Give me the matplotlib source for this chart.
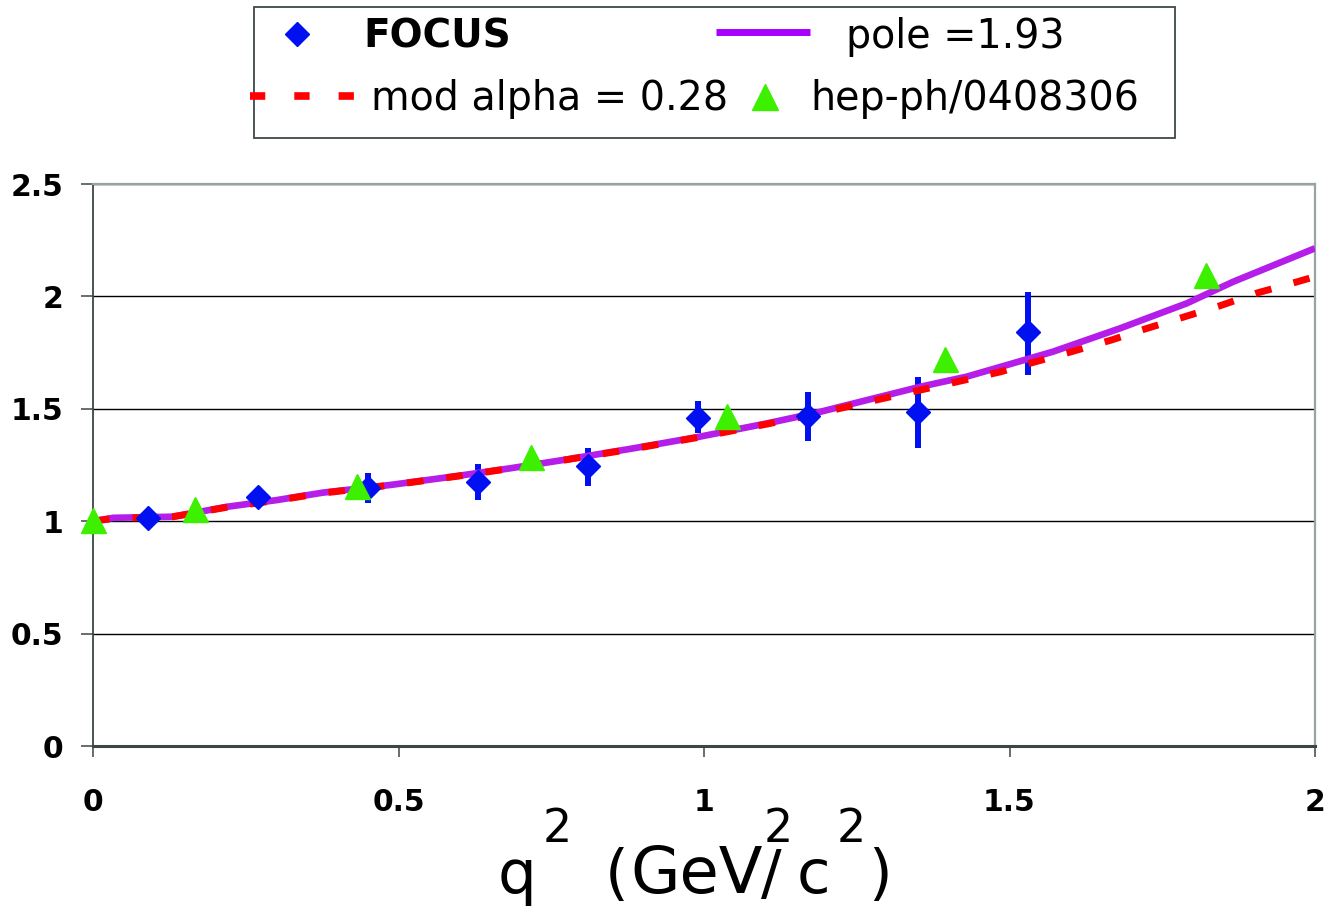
#!/usr/bin/env python

import matplotlib
matplotlib.use('Agg')
from matplotlib import pyplot as plt
from matplotlib.patches import Rectangle

W_PX, H_PX = 1331, 915

BLUE = '#0010f0'
GREEN = '#3cf000'
RED = '#ff0000'
PURPLE = '#b41ee8'

# FOCUS data (diamonds + vertical error bars)
focus_q2 = [0.09, 0.27, 0.45, 0.63, 0.81, 0.99, 1.17, 1.35, 1.53]
focus_f = [1.013, 1.106, 1.146, 1.176, 1.246, 1.458, 1.468, 1.487, 1.843]
focus_lo = [0.010, 0.020, 0.064, 0.082, 0.089, 0.067, 0.110, 0.160, 0.193]
focus_hi = [0.010, 0.020, 0.067, 0.078, 0.078, 0.078, 0.108, 0.156, 0.178]

# hep-ph/0408306 (triangles)
hep_q2 = [0.0, 0.167, 0.432, 0.717, 1.037, 1.394, 1.822]
hep_f = [1.005, 1.054, 1.155, 1.287, 1.469, 1.722, 2.097]

# pole = 1.93 curve
pole_q2 = [0.0, 0.033, 0.131, 0.219, 0.301, 0.376, 0.486, 0.596, 0.682, 0.776,
           0.884, 0.993, 1.103, 1.185, 1.267, 1.354, 1.430, 1.571, 1.681, 1.790,
           1.866, 2.0]
pole_f = [1.0, 1.015, 1.020, 1.064, 1.094, 1.127, 1.161, 1.201, 1.235, 1.275,
          1.324, 1.376, 1.435, 1.483, 1.539, 1.598, 1.643, 1.754, 1.858, 1.969,
          2.065, 2.214]

# mod alpha = 0.28 curve
mod_q2 = [0.0, 0.033, 0.131, 0.219, 0.301, 0.376, 0.486, 0.596, 0.682, 0.776,
          0.884, 0.993, 1.103, 1.185, 1.267, 1.355, 1.422, 1.486, 1.537, 1.604,
          1.668, 1.717, 1.779, 1.843, 1.905, 1.971, 2.0]
mod_f = [1.0, 1.012, 1.020, 1.062, 1.093, 1.125, 1.160, 1.200, 1.234, 1.274,
         1.322, 1.374, 1.432, 1.478, 1.530, 1.584, 1.625, 1.665, 1.705, 1.756,
         1.807, 1.851, 1.903, 1.957, 2.015, 2.065, 2.088]

xticks = [0, 0.5, 1, 1.5, 2]
xtick_labels = ['0', '0.5', '1', '1.5', '2']
yticks = [0, 0.5, 1, 1.5, 2, 2.5]
ytick_labels = ['0', '0.5', '1', '1.5', '2', '2.5']

legend_labels = ['FOCUS', 'pole =1.93', 'mod alpha = 0.28', 'hep-ph/0408306']

fig = plt.figure(figsize=(W_PX / 100, H_PX / 100), dpi=100)
ax = fig.add_axes([93 / W_PX, 169 / H_PX, 1222 / W_PX, 562 / H_PX])

ax.errorbar(focus_q2, focus_f, yerr=[focus_lo, focus_hi], fmt='none',
            ecolor=BLUE, elinewidth=4.3, capsize=0, zorder=2)
ax.plot(pole_q2, pole_f, color=PURPLE, lw=4.8, solid_capstyle='butt',
        solid_joinstyle='round', zorder=3)
ax.plot(mod_q2, mod_f, color=RED, lw=5.0, dashes=(2.4, 3.3),
        dash_capstyle='butt', zorder=3.5)
ax.plot(focus_q2, focus_f, 'D', ms=12.5, color=BLUE, mec=BLUE, zorder=4,
        clip_on=False)
ax.plot(hep_q2, hep_f, '^', ms=18, color=GREEN, mec=GREEN, zorder=5,
        clip_on=False)

ax.set_xlim(0, 2)
ax.set_ylim(0, 2.5)
ax.set_xticks(xticks)
ax.set_xticklabels(xtick_labels, fontsize=21.5, fontweight='bold')
ax.set_yticks(yticks)
ax.set_yticklabels(ytick_labels, fontsize=21.5, fontweight='bold')
ax.tick_params(axis='y', direction='out', length=8.6, width=1.1, pad=13,
               color='#3c4646', labelcolor='black')
ax.tick_params(axis='x', direction='out', length=8.0, width=1.1, pad=22,
               color='#3c4646', labelcolor='black')

ax.yaxis.grid(True, color='black', lw=1.0)
ax.set_axisbelow(True)
ax.spines['top'].set_color('#98a4a4')
ax.spines['right'].set_color('#98a4a4')
ax.spines['top'].set_linewidth(1.6)
ax.spines['right'].set_linewidth(1.6)
ax.spines['left'].set_color('#3c4646')
ax.spines['left'].set_linewidth(1.3)
ax.spines['bottom'].set_color('#3c4646')
ax.spines['bottom'].set_linewidth(2.2)

# overlay in pixel coordinates for the legend box and the axis title
ov = fig.add_axes([0, 0, 1, 1])
ov.set_xlim(0, W_PX)
ov.set_ylim(H_PX, 0)
ov.axis('off')

ov.add_patch(Rectangle((254, 7), 921, 131, facecolor='white',
                       edgecolor='#404848', lw=1.3))
ov.plot([297], [34], 'D', ms=12.7, color=BLUE)
ov.plot([716, 810], [32, 32], color='#a800ff', lw=5, solid_capstyle='butt')
ov.plot([250, 354], [96, 96], color=RED, lw=5.5, dashes=(2.0, 3.8),
        dash_capstyle='butt')
ov.plot([765], [96.6], '^', ms=19, color=GREEN)
ov.text(363, 48, legend_labels[0], fontsize=28, fontweight='bold', va='baseline')
ov.text(846, 48, legend_labels[1], fontsize=28.5, va='baseline')
ov.text(371, 110, legend_labels[2], fontsize=28.5, va='baseline')
ov.text(810, 110, legend_labels[3], fontsize=28.5, va='baseline')

# x-axis title  q^2 (GeV^2/ c^2)
big = 44
sup = 33
ov.text(498, 893, 'q', fontsize=big, va='baseline')
ov.text(543, 842, '2', fontsize=sup, va='baseline')
ov.text(605, 893, '(', fontsize=big, va='baseline')
ov.text(630, 893, 'GeV', fontsize=big + 2, va='baseline')
ov.text(761, 893, '/', fontsize=big, va='baseline')
ov.text(764, 842, '2', fontsize=sup, va='baseline')
ov.text(797, 893, 'c', fontsize=big, va='baseline')
ov.text(837, 842, '2', fontsize=sup, va='baseline')
ov.text(868, 893, ')', fontsize=big, va='baseline')

plt.savefig('out.png', dpi=100)
